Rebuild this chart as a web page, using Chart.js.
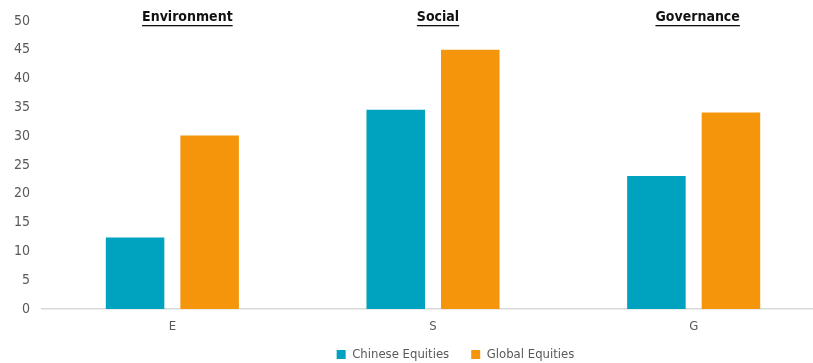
<!DOCTYPE html>
<html>
<head>
<meta charset="UTF-8">
<title>ESG scores</title>
<style type="text/css">
body { margin: 0; background: #fff; }
#wrap { width: 813px; height: 363px; }
</style>
</head>
<body>
<div id="wrap"><canvas id="myChart"></canvas></div>
<script src="https://cdn.jsdelivr.net/npm/chart.js@4"></script>
<script>
// data
var categories = ['E', 'S', 'G'];
var groupTitles = ['Environment', 'Social', 'Governance'];
var chineseEquities = [12.4, 34.6, 23.1];
var globalEquities = [30.1, 45.0, 34.1];
var yTicks = [0, 5, 10, 15, 20, 25, 30, 35, 40, 45, 50];

var FONT = "'DejaVu Sans Condensed', 'Open Sans', sans-serif";

// titles above each group (bold, underlined) + layout nudges
var groupTitlePlugin = {
	id: 'groupTitles',
	afterLayout: function(chart) {
		// original plot runs past the right edge of the picture
		var xs = chart.scales.x;
		xs.right += 11;
		xs.width += 11;
		xs.configure();
		chart.chartArea.right += 11;
		chart.chartArea.width += 11;
		// legend sits a little right of the middle in the original
		if (chart.legend) {
			chart.legend.left += 48;
			chart.legend.right += 48;
			chart.legend.top -= 13;
			chart.legend.bottom -= 13;
		}
	},
	afterDraw: function(chart) {
		var ctx = chart.ctx;
		var xs = chart.scales.x;
		var top = chart.chartArea.top;
		var shift = [15, 5, 4];
		ctx.save();
		ctx.font = 'bold 14px ' + FONT;
		ctx.fillStyle = '#111';
		ctx.textAlign = 'center';
		ctx.textBaseline = 'middle';
		for (var i = 0; i < groupTitles.length; i++) {
			var x = xs.getPixelForValue(i) + shift[i];
			var y = top - 4;
			ctx.fillText(groupTitles[i], x, y);
			var w = ctx.measureText(groupTitles[i]).width;
			ctx.fillRect(x - w / 2, y + 8, w, 1.3);
		}
		ctx.restore();
	}
};

var ctx = document.getElementById('myChart').getContext('2d');
var chart = new Chart(ctx, {
	type: 'bar',
	data: {
		labels: categories,
		datasets: [{
			label: 'Chinese Equities',
			data: chineseEquities,
			backgroundColor: '#00A3BF'
		}, {
			label: 'Global Equities',
			data: globalEquities,
			backgroundColor: '#F5950B'
		}]
	},
	options: {
		responsive: true,
		maintainAspectRatio: false,
		animation: false,
		layout: { padding: { top: 21, left: 2, right: 0, bottom: -21 } },
		datasets: { bar: { barPercentage: 0.785, categoryPercentage: 0.572 } },
		plugins: {
			legend: {
				position: 'bottom',
				labels: {
					boxWidth: 9, boxHeight: 9, padding: 22,
					color: '#595959',
					font: { family: FONT, size: 13 }
				}
			},
			tooltip: { enabled: false }
		},
		scales: {
			x: {
				grid: { display: false, drawTicks: false },
				border: { color: '#d9d9d9', width: 1.5 },
				ticks: { color: '#595959', font: { family: FONT, size: 13 }, padding: 10 },
				afterFit: function(axis) { axis.height = 30; }
			},
			y: {
				min: 0, max: 50,
				afterBuildTicks: function(axis) {
					axis.ticks = yTicks.map(function(v) { return { value: v }; });
				},
				grid: { display: false, drawTicks: false },
				border: { display: false },
				ticks: { color: '#595959', font: { family: FONT, size: 14 }, padding: 12 }
			}
		}
	},
	plugins: [groupTitlePlugin]
});
</script>
</body>
</html>
